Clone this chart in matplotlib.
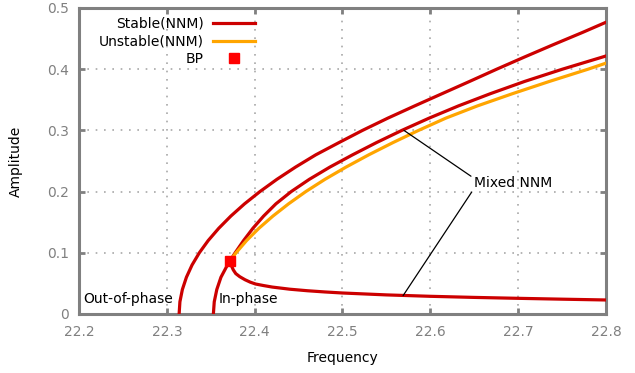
import matplotlib
matplotlib.use("Agg")
import matplotlib.pyplot as plt

# ---- data ----
# out-of-phase stable backbone (amplitude, frequency)
amp_oop = [0.0, 0.02, 0.04, 0.06, 0.08, 0.10, 0.12, 0.14, 0.16, 0.18, 0.20, 0.22,
           0.24, 0.26, 0.28, 0.30, 0.32, 0.34, 0.36, 0.38, 0.40, 0.42, 0.44, 0.46, 0.476]
freq_oop = [22.3140, 22.3149, 22.3177, 22.3223, 22.3287, 22.3370, 22.3471, 22.3591,
            22.3729, 22.3885, 22.4060, 22.4253, 22.4465, 22.4695, 22.4959, 22.5228,
            22.5516, 22.5822, 22.6134, 22.6447, 22.6756, 22.7074, 22.7399, 22.7732, 22.7989]

# in-phase stable backbone (through the branch point)
amp_ip = [0.0, 0.02, 0.04, 0.06, 0.08, 0.0866, 0.10, 0.12, 0.14, 0.16, 0.18, 0.20,
          0.22, 0.24, 0.26, 0.28, 0.30, 0.32, 0.34, 0.36, 0.38, 0.40, 0.42, 0.4216]
freq_ip = [22.3530, 22.3540, 22.3569, 22.3616, 22.3690, 22.3718, 22.3778, 22.3874,
           22.3980, 22.4102, 22.4242, 22.4416, 22.4622, 22.4856, 22.5114, 22.5386,
           22.5676, 22.5986, 22.6320, 22.6684, 22.7074, 22.7504, 22.7964, 22.8000]

# unstable in-phase branch
amp_un = [0.0866, 0.10, 0.12, 0.14, 0.16, 0.18, 0.20, 0.22, 0.24, 0.26, 0.28,
          0.30, 0.32, 0.34, 0.36, 0.38, 0.40, 0.4099]
freq_un = [22.3718, 22.3788, 22.3908, 22.4048, 22.4208, 22.4386, 22.4582, 22.4800,
           22.5040, 22.5298, 22.5574, 22.5866, 22.6176, 22.6536, 22.6936, 22.7356,
           22.7796, 22.8000]

# stable mixed branch (lower)
freq_lo = [22.3718, 22.3735, 22.3757, 22.3785, 22.3830, 22.3890, 22.3950, 22.4010,
           22.41, 22.42, 22.44, 22.46, 22.48, 22.50, 22.55, 22.60, 22.65, 22.70,
           22.75, 22.80]
amp_lo = [0.0866, 0.079, 0.072, 0.066, 0.061, 0.056, 0.052, 0.049,
          0.0465, 0.0440, 0.0405, 0.0380, 0.0360, 0.0343, 0.0312, 0.0289, 0.0271,
          0.0256, 0.0242, 0.0229]

# branch point
bp_freq = [22.3718]
bp_amp = [0.0866]

xticks = [22.2, 22.3, 22.4, 22.5, 22.6, 22.7, 22.8]
yticks = [0, 0.1, 0.2, 0.3, 0.4, 0.5]
ytick_labels = ["0", "0.1", "0.2", "0.3", "0.4", "0.5"]

RED = "#cc0000"
ORANGE = "#ffa500"
GREY = "#808080"

fig = plt.figure(figsize=(6.35, 3.73), dpi=100)
ax = fig.add_axes([0.1244, 0.1582, 0.8299, 0.8204])

lw = 2.3
ax.plot(freq_oop, amp_oop, color=RED, lw=lw, label="Stable(NNM)", zorder=3,
        solid_joinstyle="round")
ax.plot(freq_ip, amp_ip, color=RED, lw=lw, zorder=3, solid_joinstyle="round")
ax.plot(freq_lo, amp_lo, color=RED, lw=lw, zorder=3, solid_joinstyle="round")
ax.plot(freq_un, amp_un, color=ORANGE, lw=lw, label="Unstable(NNM)", zorder=3,
        solid_joinstyle="round")
ax.plot(bp_freq, bp_amp, linestyle="none", marker="s", color="#ff0000",
        markersize=7, label="BP", zorder=4)

ax.set_xlim(22.2, 22.8)
ax.set_ylim(0, 0.5)
ax.set_xticks(xticks)
ax.set_xticklabels([f"{t:.1f}" for t in xticks])
ax.set_yticks(yticks)
ax.set_yticklabels(ytick_labels)

ax.grid(True, color="#a8a8a8", linestyle=(0, (1, 4)), linewidth=1.2)
ax.set_axisbelow(True)

for s in ax.spines.values():
    s.set_color(GREY)
    s.set_linewidth(2.2)

ax.tick_params(direction="in", length=4, width=2, color=GREY, labelcolor=GREY,
               labelsize=10, top=True, right=True)
ax.tick_params(axis="x", pad=8)
ax.tick_params(axis="y", pad=7)

ax.set_xlabel("Frequency", fontsize=10, color="black")
ax.set_ylabel("Amplitude", fontsize=10, color="black")
ax.xaxis.set_label_coords(0.5, -0.121)
ax.yaxis.set_label_coords(-0.106, 0.5)

ax.text(22.2046, 0.0245, "Out-of-phase", fontsize=10, ha="left", va="center", zorder=5)
ax.text(22.3594, 0.0245, "In-phase", fontsize=10, ha="left", va="center", zorder=5)

ax.annotate("Mixed NNM", xy=(22.570, 0.300), xytext=(22.694, 0.214),
            ha="center", va="center", fontsize=10,
            arrowprops=dict(arrowstyle="-", color="black", lw=0.9,
                            shrinkA=0, shrinkB=0, relpos=(0, 0.85)))
ax.annotate("", xy=(22.569, 0.030), xytext=(22.647, 0.199),
            arrowprops=dict(arrowstyle="-", color="black", lw=0.9,
                            shrinkA=0, shrinkB=0))

leg = ax.legend(loc="upper right", bbox_to_anchor=(0.334, 0.9706), frameon=False,
                markerfirst=False, fontsize=10, handlelength=3.0, handletextpad=0.7,
                labelspacing=0.25, borderpad=0, borderaxespad=0)

fig.savefig("out.png", dpi=100)
